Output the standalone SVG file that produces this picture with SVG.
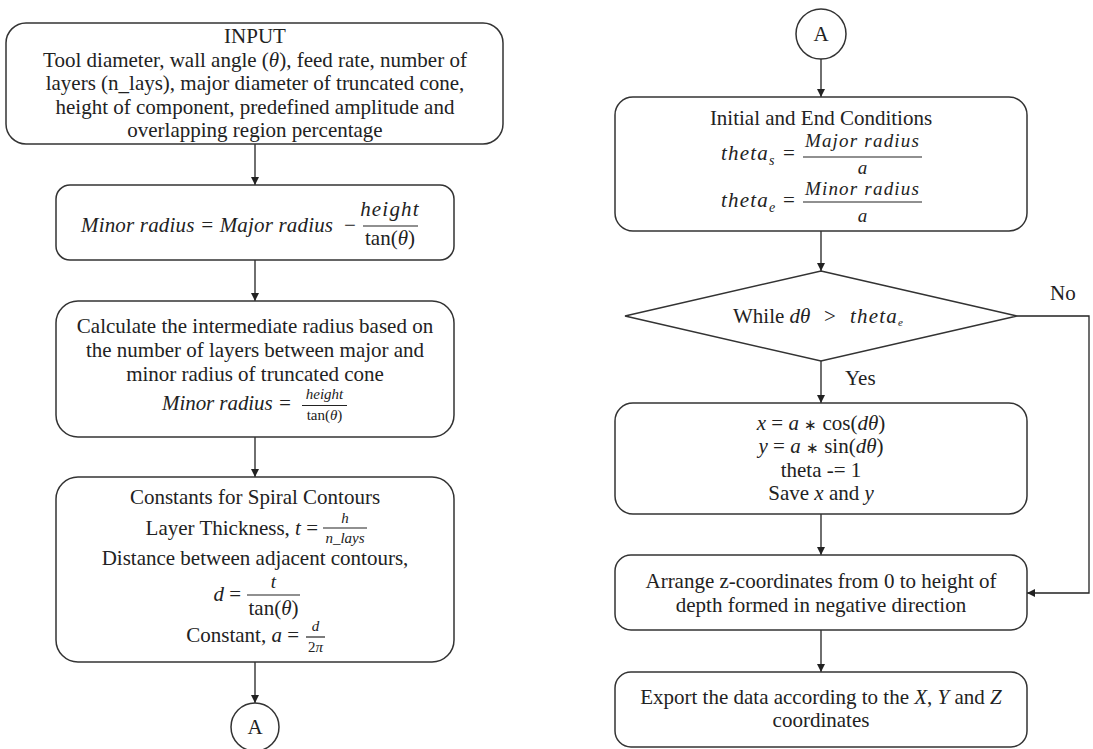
<svg xmlns="http://www.w3.org/2000/svg" width="1093" height="749" viewBox="0 0 1093 749">
<style>
.b{fill:#fff;stroke:#333;stroke-width:1.5}
.c{fill:none;stroke:#222;stroke-width:1.3}
.t{font-family:"Liberation Serif",serif;font-size:21px;fill:#222;text-anchor:middle}
.l{text-anchor:start}
.e{text-anchor:end}
.i{font-style:italic}
.s{font-size:15px}
.f{font-size:19px}
.ls{letter-spacing:1.2px}
.fl{stroke:#222;stroke-width:1.2}
</style>
<defs>
<marker id="ah" viewBox="0 0 10 10" refX="10" refY="5" markerWidth="8" markerHeight="8" markerUnits="userSpaceOnUse" orient="auto">
<path d="M0,0 L10,5 L0,10 z" fill="#222"/>
</marker>
</defs>
<rect width="1093" height="749" fill="#fff"/>
<g id="connectors">
<line class="c" x1="255" y1="144" x2="255" y2="185" marker-end="url(#ah)"/>
<line class="c" x1="255" y1="260" x2="255" y2="301" marker-end="url(#ah)"/>
<line class="c" x1="255" y1="437" x2="255" y2="477" marker-end="url(#ah)"/>
<line class="c" x1="255" y1="662" x2="255" y2="703" marker-end="url(#ah)"/>
<line class="c" x1="821" y1="59" x2="821" y2="97" marker-end="url(#ah)"/>
<line class="c" x1="821" y1="231" x2="821" y2="271" marker-end="url(#ah)"/>
<line class="c" x1="821" y1="361" x2="821" y2="403" marker-end="url(#ah)"/>
<line class="c" x1="821" y1="514" x2="821" y2="555" marker-end="url(#ah)"/>
<line class="c" x1="821" y1="630" x2="821" y2="672" marker-end="url(#ah)"/>
<polyline class="c" points="1017,316 1089,316 1089,593 1027,593" marker-end="url(#ah)"/>
<text class="t l" x="1050" y="300">No</text>
<text class="t l" x="845" y="385">Yes</text>
</g>
<g id="input">
<rect class="b" x="6" y="23" width="497" height="121" rx="20"/>
<text class="t" x="255" y="43">INPUT</text>
<text class="t" x="255" y="67">Tool diameter, wall angle (<tspan class="i">θ</tspan>), feed rate, number of</text>
<text class="t" x="255" y="90">layers (n_lays), major diameter of truncated cone,</text>
<text class="t" x="255" y="114">height of component, predefined amplitude and</text>
<text class="t" x="255" y="137">overlapping region percentage</text>
</g>
<g id="minor-radius">
<rect class="b" x="56" y="185" width="398" height="75" rx="14"/>
<text class="t l i" x="81" y="232" textLength="252">Minor radius = Major radius</text>
<text class="t" x="350" y="232">−</text>
<text class="t i ls" x="390" y="216">height</text>
<line class="fl" x1="363" y1="226" x2="418" y2="226"/>
<text class="t" x="390" y="245">tan(<tspan class="i">θ</tspan>)</text>
</g>
<g id="intermediate">
<rect class="b" x="56" y="301" width="398" height="136" rx="22"/>
<text class="t" x="255" y="333">Calculate the intermediate radius based on</text>
<text class="t" x="255" y="357">the number of layers between major and</text>
<text class="t" x="255" y="381">minor radius of truncated cone</text>
<text class="t l i" x="162" y="410" textLength="130">Minor radius =</text>
<text class="t i s" x="324.5" y="399">height</text>
<line class="fl" x1="302" y1="405.5" x2="347" y2="405.5"/>
<text class="t s" x="324.5" y="420">tan(<tspan class="i">θ</tspan>)</text>
</g>
<g id="constants">
<rect class="b" x="56" y="477" width="398" height="185" rx="22"/>
<text class="t" x="255" y="504">Constants for Spiral Contours</text>
<text class="t e" x="318" y="535">Layer Thickness, <tspan class="i">t</tspan> =</text>
<text class="t i s" x="345" y="523">h</text>
<line class="fl" x1="323" y1="528" x2="367" y2="528"/>
<text class="t i s" x="345" y="543">n_lays</text>
<text class="t" x="255" y="565">Distance between adjacent contours,</text>
<text class="t e" x="241" y="601"><tspan class="i">d</tspan> =</text>
<text class="t i f" x="273.5" y="588">t</text>
<line class="fl" x1="247" y1="595" x2="300" y2="595"/>
<text class="t" x="273.5" y="615">tan(<tspan class="i">θ</tspan>)</text>
<text class="t e" x="299" y="642">Constant, <tspan class="i">a</tspan> =</text>
<text class="t i s" x="315.5" y="631">d</text>
<line class="fl" x1="306" y1="637" x2="325" y2="637"/>
<text class="t s" x="315.5" y="652">2<tspan class="i">π</tspan></text>
</g>
<g id="connector-a-left">
<circle class="b" cx="255" cy="727" r="24"/>
<text class="t" x="255" y="734">A</text>
</g>
<g id="connector-a-right">
<circle class="b" cx="821" cy="34" r="25"/>
<text class="t" x="821" y="41">A</text>
</g>
<g id="conditions">
<rect class="b" x="615" y="97" width="412" height="134" rx="18"/>
<text class="t" x="821" y="125">Initial and End Conditions</text>
<text class="t l i ls" x="721" y="160">theta<tspan font-size="14" dy="5">s</tspan></text>
<text class="t" x="789" y="160">=</text>
<text class="t i f ls" x="862.5" y="147">Major radius</text>
<line class="fl" x1="803" y1="157" x2="922" y2="157"/>
<text class="t i f" x="862.5" y="174">a</text>
<text class="t l i ls" x="721" y="207">theta<tspan font-size="14" dy="5">e</tspan></text>
<text class="t" x="789" y="207">=</text>
<text class="t i f ls" x="862.5" y="195">Minor radius</text>
<line class="fl" x1="803" y1="202" x2="922" y2="202"/>
<text class="t i f" x="862.5" y="222">a</text>
</g>
<g id="while">
<polygon class="b" points="821,271 1017,316 821,361 625,316"/>
<text class="t l" x="733" y="323">While <tspan class="i">dθ</tspan><tspan x="824">&gt;</tspan><tspan class="i ls" x="850">theta</tspan><tspan class="i" font-size="11" dy="3">e</tspan></text>
</g>
<g id="compute-xy">
<rect class="b" x="615" y="403" width="412" height="111" rx="18"/>
<text class="t" x="821" y="430"><tspan class="i">x</tspan> = <tspan class="i">a</tspan> <tspan font-size="15">∗</tspan> cos(<tspan class="i">dθ</tspan>)</text>
<text class="t" x="821" y="453"><tspan class="i">y</tspan> = <tspan class="i">a</tspan> <tspan font-size="15">∗</tspan> sin(<tspan class="i">dθ</tspan>)</text>
<text class="t" x="821" y="477">theta -= 1</text>
<text class="t" x="821" y="500">Save <tspan class="i">x</tspan> and <tspan class="i">y</tspan></text>
</g>
<g id="arrange-z">
<rect class="b" x="615" y="555" width="412" height="75" rx="16"/>
<text class="t" x="821" y="588">Arrange z-coordinates from 0 to height of</text>
<text class="t" x="821" y="612">depth formed in negative direction</text>
</g>
<g id="export">
<rect class="b" x="615" y="672" width="412" height="75" rx="16"/>
<text class="t" x="821" y="704">Export the data according to the <tspan class="i">X</tspan>, <tspan class="i">Y</tspan> and <tspan class="i">Z</tspan></text>
<text class="t" x="821" y="727">coordinates</text>
</g>
</svg>
